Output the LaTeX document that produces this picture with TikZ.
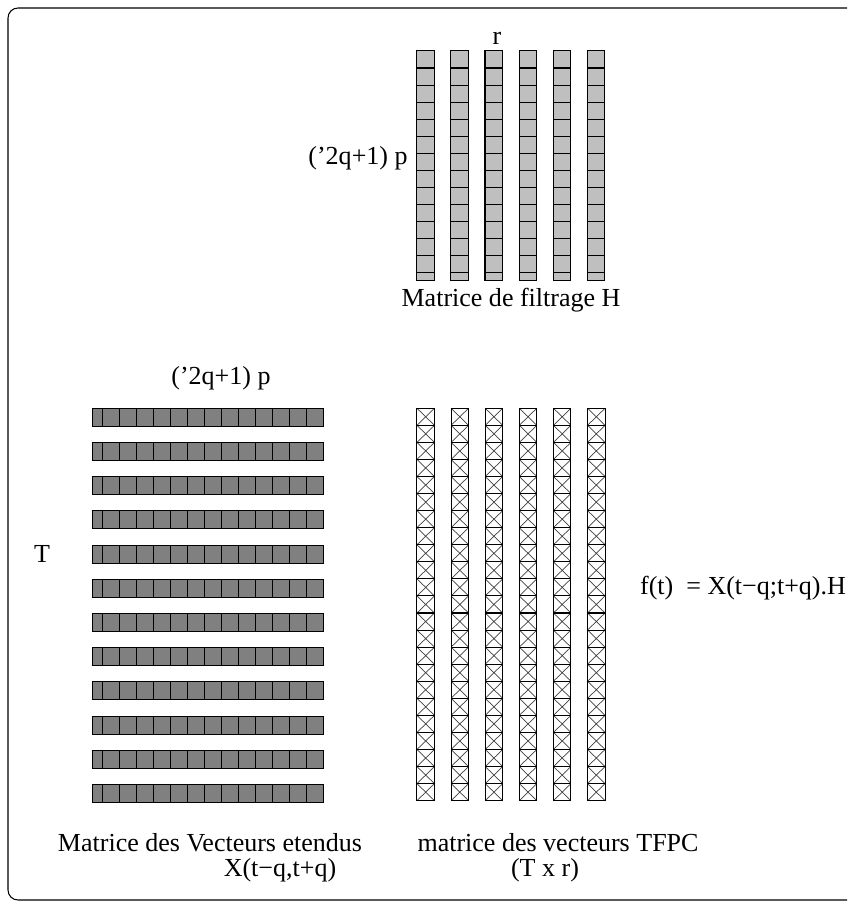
\documentclass[tikz,border=0pt]{standalone}
\usepackage{fontspec}
\setmainfont{Liberation Serif}
\usetikzlibrary{positioning,chains}

\begin{document}
\begin{tikzpicture}[x=0.2mm,y=-0.2mm,
  every node/.style={inner sep=0pt,outer sep=0pt},
  Hcell/.style={draw,fill=black!25,line width=0.6pt,minimum width=3.5mm,minimum height=3.41mm},
  Xcell/.style={draw,fill=black!50,line width=0.6pt,minimum width=3.406mm,minimum height=3.6mm},
  Fcell/.style={draw,line width=0.6pt,minimum width=3.5mm,minimum height=3.412mm,
    path picture={\draw[black!75,line width=0.4pt]
      (path picture bounding box.north west) -- (path picture bounding box.south east)
      (path picture bounding box.north east) -- (path picture bounding box.south west);}},
  txt/.style={font=\fontsize{14.8}{17.8}\selectfont}
]
\useasboundingbox (0,0) rectangle (847,901);
\clip (0,0) rectangle (847,901);

% the frame
\draw[line width=0.6pt,rounded corners=2mm] (870,8) -- (8,8) -- (8,900) -- (870,900);

% the filter matrix H
\foreach \c in {1,...,6} {
  \begin{scope}[start chain=going below,node distance=0pt]
    \node[Hcell,on chain] (H\c-1) at (425.5+34.12*\c-34.12,59.5) {};
    \foreach \i in {2,...,13}
      \node[Hcell,on chain] (H\c-\i) {};
    \node[Hcell,on chain,minimum height=1.6mm] (H\c-14) {};
  \end{scope}
}

% the extended vectors, one row per t
\foreach \r in {1,...,12} {
  \begin{scope}[start chain=going right,node distance=0pt]
    \node[Xcell,on chain,minimum width=1.94mm] (X\r-1) at (97.55,417.3+34.2*\r-34.2) {};
    \foreach \i in {2,...,14}
      \node[Xcell,on chain] (X\r-\i) {};
  \end{scope}
}

% the TFPC vectors
\foreach \c in {1,...,6} {
  \begin{scope}[start chain=going below,node distance=0pt]
    \node[Fcell,on chain] (F\c-1) at (425.7+34.12*\c-34.12,416.8) {};
    \foreach \i in {2,...,23}
      \node[Fcell,on chain] (F\c-\i) {};
  \end{scope}
}

% the labels
\node[txt] (r) at (497,38) {r};
\node[txt] (Hrows) at (358,158) {('2q+1) p};
\node[txt] (Hname) at (511,300) {Matrice de filtrage H};
\node[txt] (Xcols) at (221,378) {('2q+1) p};
\node[txt] (T) at (42,554) {T};
\node[txt] (eq) at (743,588) {f(t)\ \ = X(t−q;t+q).H};
\node[txt] (Xname) at (210,843) {Matrice des Vecteurs etendus};
\node[txt] (Xdim) at (280,870) {X(t−q,t+q)};
\node[txt] (Fname) at (558,843) {matrice des vecteurs TFPC};
\node[txt] (Fdim) at (545,870) {(T x r)};

\end{tikzpicture}
\end{document}
